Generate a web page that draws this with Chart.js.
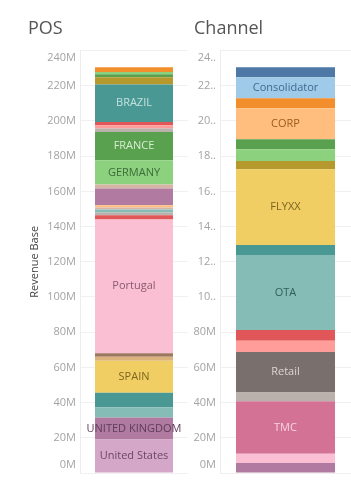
<!DOCTYPE html>
<html><head><meta charset="utf-8">
<script src="https://cdn.jsdelivr.net/npm/chart.js@4.4.1/dist/chart.umd.min.js"></script>
<style>
html,body{margin:0;padding:0;background:#fff;width:351px;height:484px;overflow:hidden;}
#w1{position:absolute;left:24px;top:0;width:164px;height:484px;}
#w2{position:absolute;left:190px;top:0;width:161px;height:484px;}
</style></head><body>
<div id="w1"><canvas id="c1"></canvas></div>
<div id="w2"><canvas id="c2"></canvas></div>
<script>
// ---- data (segments listed bottom -> top) ----
const posNames = ['United States','UNITED KINGDOM','POS 3','POS 4','SPAIN','POS 6','POS 7','Portugal','POS 9','POS 10','POS 11','POS 12','POS 13','POS 14','POS 15','GERMANY','FRANCE','POS 18','POS 19','POS 20','BRAZIL','POS 22','POS 23','POS 24','POS 25'];
const posValues = [19.1,12.5,5.7,8.3,18.2,2.3,1.9,76.1,2.4,1.5,1.7,1.1,1.3,9.5,2.3,13.8,16.1,1.9,1.9,1.9,21.2,4.1,1.7,1.4,2.7];
const posShown = ['United States','UNITED KINGDOM','SPAIN','Portugal','GERMANY','FRANCE','BRAZIL'];

const channelNames = ['Ch 1','Ch 2','TMC','Ch 4','Retail','Ch 6','Ch 7','OTA','Ch 9','FLYXX','Ch 11','Ch 12','Ch 13','CORP','Ch 15','Consolidator','Ch 17'];
const channelValues = [5.7,5.3,29.7,5.1,22.9,6.4,6.2,42.6,5.7,43.0,4.7,6.6,5.7,17.6,5.7,11.9,5.7];
const channelShown = ['TMC','Retail','OTA','FLYXX','CORP','Consolidator'];

const tickValues = [0,20,40,60,80,100,120,140,160,180,200,220,240];
const posTickLabels = ['0M','20M','40M','60M','80M','100M','120M','140M','160M','180M','200M','220M','240M'];
const channelTickLabels = ['0M','20M','40M','60M','80M','10..','12..','14..','16..','18..','20..','22..','24..'];

// ---- styles ----
const posColors = ['#d4a6c8','#b07aa1','#86bcb6','#499894','#f1ce63','#d9b27c','#9d7660','#fabfd2','#e15759','#bab0ac','#86bcb6','#d7b5a6','#ffbe7d','#b07aa1','#d7b5a6','#8cd17d','#59a14f','#bab0ac','#ff9d9a','#e15759','#499894','#b6992d','#59a14f','#8cd17d','#f28e2b'];
const channelColors = ['#b07aa1','#fabfd2','#d37295','#bab0ac','#79706e','#ff9d9a','#e15759','#86bcb6','#499894','#f1ce63','#b6992d','#8cd17d','#59a14f','#ffbe7d','#f28e2b','#a0cbe8','#4e79a7'];
const labelColors = {
  'United States':'#6d4766','UNITED KINGDOM':'#5e3d58','SPAIN':'#7d6520','Portugal':'#8a5a6e',
  'GERMANY':'#3e6b3a','FRANCE':'#d8ecd3','BRAZIL':'#c3e2df',
  'TMC':'#f7d3e0','Retail':'#dcd6d4','OTA':'#2f5f5b','FLYXX':'#7a6322','CORP':'#9c5a1e','Consolidator':'#3f6b8e'
};
const FONT = '"Open Sans", "DejaVu Sans", sans-serif';

const segLabels = {
  id:'segLabels',
  beforeDraw(chart){
    // keep the end tick labels inside the pane, as the original does
    const s = chart.scales.y;
    const items = s.getLabelItems(chart.chartArea);
    if(items.length){
      items[0].options.translation[1] -= 8;
      items[items.length-1].options.translation[1] += 7;
    }
  },
  afterDatasetsDraw(chart){
    const ctx = chart.ctx;
    ctx.save();
    ctx.font = '11px ' + FONT;
    ctx.textAlign = 'center';
    ctx.textBaseline = 'middle';
    chart.data.datasets.forEach((ds,i)=>{
      if(!ds.showText) return;
      const el = chart.getDatasetMeta(i).data[0];
      ctx.fillStyle = labelColors[ds.label] || '#333';
      ctx.fillText(ds.label, el.x, (el.y + el.base)/2);
    });
    ctx.restore();
  }
};

function makeChart(id, title, names, values, colors, shown, tickLabels, axisWidth, barPct, yTitle){
  return new Chart(document.getElementById(id), {
    type:'bar',
    data:{
      labels:[title],
      datasets: names.map((n,i)=>({
        label:n, data:[values[i]], backgroundColor:colors[i], borderWidth:0,
        barPercentage:barPct, categoryPercentage:1, showText: shown.includes(n)
      }))
    },
    options:{
      responsive:true, maintainAspectRatio:false, animation:false,
      layout:{padding:{left:4,right:0,top:0,bottom:11}},
      plugins:{
        legend:{display:false}, tooltip:{enabled:false},
        title:{display:true, text:title, align:'start', color:'#555',
          font:{size:18, family:FONT, weight:'normal'}, padding:{top:18,bottom:11}}
      },
      scales:{
        x:{stacked:true, display:false},
        y:{stacked:true, min:0, max:240,
          afterBuildTicks(scale){ scale.ticks = tickValues.map(v=>({value:v})); },
          afterFit(scale){ scale.width = axisWidth; },
          ticks:{padding:4, color:'#a3a3a3', font:{size:11, family:FONT},
            callback:(v)=> tickLabels[tickValues.indexOf(v)]},
          grid:{color:'#f0f0f0', drawTicks:false},
          border:{color:'#ececec'},
          title:{display:!!yTitle, text:yTitle||'', color:'#444', font:{size:11, family:FONT}, padding:{top:0,bottom:0}}
        }
      }
    },
    plugins:[segLabels]
  });
}

makeChart('c1','POS',posNames,posValues,posColors,posShown,posTickLabels,52,0.722,'Revenue Base');
makeChart('c2','Channel',channelNames,channelValues,channelColors,channelShown,channelTickLabels,26,0.756,'');
</script>
</body></html>
